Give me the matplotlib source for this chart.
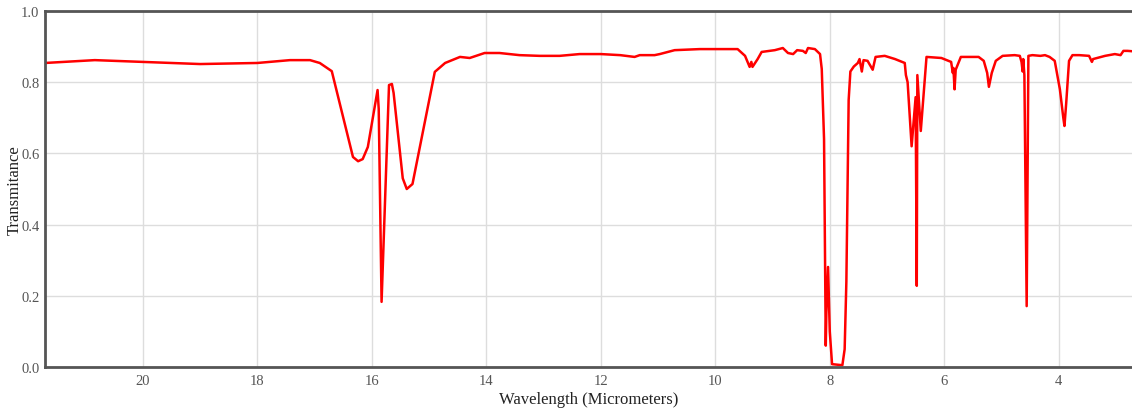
import matplotlib
matplotlib.use("Agg")
import matplotlib.pyplot as plt

# Wavelength (micrometers) and transmittance
wavelength = [
    21.71, 20.84, 20.00, 19.00, 18.00, 17.43, 17.08, 16.91, 16.70, 16.33, 16.24, 16.16,
    16.07, 15.90, 15.88, 15.83, 15.70, 15.65, 15.62, 15.46, 15.39, 15.29, 14.90, 14.72,
    14.46, 14.29, 14.03, 13.77, 13.42, 13.07, 12.72, 12.37, 12.00, 11.66, 11.41, 11.32,
    11.06, 10.97, 10.71, 10.27, 9.61, 9.48, 9.40, 9.37, 9.35, 9.26, 9.19, 8.96,
    8.82, 8.73, 8.64, 8.57, 8.47, 8.42, 8.38, 8.26, 8.17, 8.14, 8.10, 8.07,
    8.06, 8.03, 8.00, 7.96, 7.78, 7.74, 7.71, 7.67, 7.64, 7.58, 7.51, 7.48,
    7.44, 7.41, 7.34, 7.25, 7.20, 7.04, 6.86, 6.69, 6.67, 6.64, 6.57, 6.52,
    6.50, 6.48, 6.47, 6.41, 6.31, 6.05, 5.88, 5.85, 5.84, 5.82, 5.80, 5.71,
    5.40, 5.31, 5.25, 5.22, 5.17, 5.10, 4.98, 4.77, 4.68, 4.65, 4.63, 4.62,
    4.60, 4.56, 4.53, 4.46, 4.32, 4.24, 4.16, 4.07, 3.98, 3.92, 3.90, 3.87,
    3.82, 3.76, 3.64, 3.47, 3.42, 3.40, 3.33, 3.19, 3.02, 2.92, 2.87, 2.80, 2.72,
]
transmittance = [
    0.854, 0.862, 0.857, 0.851, 0.854, 0.862, 0.862, 0.854, 0.831, 0.590, 0.578, 0.584,
    0.618, 0.778, 0.725, 0.183, 0.792, 0.795, 0.770, 0.530, 0.500, 0.514, 0.829, 0.854,
    0.871, 0.868, 0.882, 0.882, 0.876, 0.874, 0.874, 0.879, 0.879, 0.876, 0.871, 0.876,
    0.876, 0.879, 0.890, 0.893, 0.893, 0.874, 0.843, 0.857, 0.843, 0.865, 0.885, 0.890,
    0.896, 0.882, 0.879, 0.890, 0.888, 0.882, 0.896, 0.893, 0.879, 0.837, 0.640, 0.060,
    0.150, 0.281, 0.100, 0.008, 0.005, 0.050, 0.240, 0.750, 0.830, 0.844, 0.854, 0.865,
    0.830, 0.862, 0.860, 0.835, 0.871, 0.874, 0.865, 0.854, 0.820, 0.800, 0.620, 0.720,
    0.758, 0.228, 0.820, 0.663, 0.871, 0.868, 0.857, 0.826, 0.840, 0.780, 0.835, 0.871,
    0.871, 0.860, 0.826, 0.787, 0.826, 0.860, 0.874, 0.876, 0.874, 0.857, 0.830, 0.865,
    0.820, 0.171, 0.874, 0.876, 0.874, 0.876, 0.871, 0.860, 0.780, 0.700, 0.677, 0.740,
    0.860, 0.876, 0.876, 0.874, 0.857, 0.865, 0.868, 0.874, 0.879, 0.876, 0.888, 0.888, 0.887,
]

x_ticks = [20, 18, 16, 14, 12, 10, 8, 6, 4]
y_ticks = [0.0, 0.2, 0.4, 0.6, 0.8, 1.0]

plt.rcParams["font.family"] = ["Liberation Serif", "DejaVu Serif"]

fig = plt.figure(figsize=(11.32, 4.10), dpi=100)
ax = fig.add_axes([45 / 1132, 1 - 368 / 410, 1 - 45 / 1132, (368 - 12) / 410])

ax.plot(wavelength, transmittance, color="#ff0000", linewidth=1.8, solid_joinstyle="round")

ax.set_xlim(21.71, 2.72)
ax.set_ylim(0.0, 1.0)
ax.set_xticks(x_ticks)
ax.set_xticklabels([str(t) for t in x_ticks])
ax.set_yticks(y_ticks)
ax.set_yticklabels([f"{t:.1f}" for t in y_ticks])

ax.grid(True, color="#dddddd", linewidth=1)
ax.set_axisbelow(True)
ax.tick_params(axis="both", length=0, labelsize=10.5, colors="#555555")
ax.tick_params(axis="x", pad=5)
ax.tick_params(axis="y", pad=4)

for side in ("left", "bottom", "top"):
    ax.spines[side].set_color("#555555")
    ax.spines[side].set_linewidth(2)
ax.spines["right"].set_visible(False)

ax.set_xlabel("Wavelength (Micrometers)", fontsize=12, color="#222222", va="center")
ax.set_ylabel("Transmitance", fontsize=12, color="#222222", va="center")
ax.xaxis.set_label_coords(0.5, (368 - 400) / 356)
ax.yaxis.set_label_coords((15 - 45) / 1087, 0.5)

fig.savefig("out.png", dpi=100)
